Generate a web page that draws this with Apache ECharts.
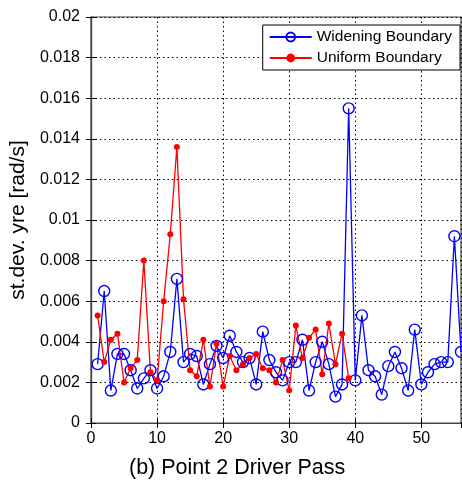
<!DOCTYPE html>
<html>
<head>
<meta charset="utf-8">
<script src="https://cdn.jsdelivr.net/npm/echarts@6/dist/echarts.min.js"></script>
<style>html,body{margin:0;padding:0;background:#fff}#c{width:462px;height:485px}</style>
</head>
<body>
<div id="c"></div>
<script>
var passes = [];
for (var i = 1; i <= 57; i++) passes.push(i);
var widening = [0.0029,0.0065,0.0016,0.0034,0.0034,0.0026,0.0017,0.0022,0.0026,0.0017,
  0.0023,0.0035,0.0071,0.0030,0.0034,0.0033,0.0019,0.0029,0.0038,0.0032,
  0.0043,0.0035,0.0030,0.0032,0.0019,0.0045,0.0031,0.0025,0.0021,0.0030,
  0.0030,0.0041,0.0016,0.0030,0.0040,0.0029,0.0013,0.0019,0.0155,0.0021,
  0.0053,0.0026,0.0023,0.0014,0.0028,0.0035,0.0027,0.0016,0.0046,0.0019,
  0.0025,0.0029,0.0030,0.0030,0.0092,0.0035];
var uniform = [0.0053,0.0030,0.0041,0.0044,0.0020,0.0027,0.0031,0.0080,0.0025,0.0021,
  0.0060,0.0093,0.0136,0.0061,0.0026,0.0023,0.0041,0.0018,0.0039,0.0018,
  0.0033,0.0026,0.0029,0.0032,0.0034,0.0027,0.0026,0.0020,0.0031,0.0016,
  0.0048,0.0032,0.0042,0.0046,0.0024,0.0049,0.0029,0.0044,0.0022,null,
  null,null,null,null,null,null,null,null,null,null,
  null,null,null,null,null,null,0.0037,0.0060];
var yTicks = [0,0.002,0.004,0.006,0.008,0.01,0.012,0.014,0.016,0.018,0.02];
var xTicks = [0,10,20,30,40,50];

function pairs(arr){ return arr.map(function(v,i){ return [passes[i], v]; }); }

var FONT = 'Liberation Sans';
var chart = echarts.init(document.getElementById('c'));
var gridStyle = {show:true, lineStyle:{color:'#000', type:[1.5,3], width:1}};
chart.setOption({
  animation:false,
  textStyle:{fontFamily:FONT},
  grid:{left:91, top:17, right:1, bottom:62, show:true, borderColor:'#444', borderWidth:1.2, backgroundColor:'#fff'},
  legend:{
    right:2, top:25, orient:'vertical', itemWidth:42, itemHeight:11, itemGap:5,
    borderColor:'#000', borderWidth:1, backgroundColor:'#fff', padding:[4,8,4,6],
    textStyle:{fontFamily:FONT, fontSize:15.5, color:'#000'},
    data:[{name:'Widening Boundary'},{name:'Uniform Boundary', itemStyle:{borderWidth:0}}]
  },
  xAxis:[{
    type:'value', min:0, max:56, interval:10,
    axisLine:{show:true, lineStyle:{color:'#444', width:1.2}},
    axisTick:{show:true, inside:true, length:5, lineStyle:{color:'#000'}},
    axisLabel:{fontFamily:FONT, fontSize:16, color:'#000', margin:8, showMaxLabel:false,
      formatter:function(v){ return xTicks.indexOf(v) >= 0 ? String(v) : ''; }},
    splitLine:gridStyle
  },{
    type:'value', min:0, max:56, interval:10, position:'top',
    axisLine:{show:true, lineStyle:{color:'#444', width:1.2}},
    axisTick:{show:true, inside:true, length:5, lineStyle:{color:'#000'}},
    axisLabel:{show:false}, splitLine:{show:false}
  }],
  yAxis:[{
    type:'value', min:0, max:0.02, interval:0.002,
    name:'st.dev. yre [rad/s]', nameLocation:'middle', nameGap:47,
    nameTextStyle:{fontFamily:FONT, fontSize:21, color:'#000'},
    axisLine:{show:true, lineStyle:{color:'#444', width:1.2}},
    axisTick:{show:true, inside:true, length:5, lineStyle:{color:'#000'}},
    axisLabel:{fontFamily:FONT, fontSize:16, color:'#000', margin:11,
      formatter:function(v){ var r = Math.round(v*1000)/1000; return yTicks.indexOf(r) >= 0 ? String(r) : ''; }},
    splitLine:gridStyle
  },{
    type:'value', min:0, max:0.02, interval:0.002, position:'right',
    axisLine:{show:true, lineStyle:{color:'#444', width:1.2}},
    axisTick:{show:true, inside:true, length:5, lineStyle:{color:'#000'}},
    axisLabel:{show:false}, splitLine:{show:false}
  }],
  graphic:[{type:'text', left:129, top:457, style:{text:'(b) Point 2 Driver Pass', font:'21.5px "Liberation Sans"', fill:'#000'}}],
  series:[{
    name:'Widening Boundary', type:'line', data:pairs(widening), clip:true,
    symbol:'circle', symbolSize:11, showAllSymbol:true,
    lineStyle:{color:'#0000ff', width:1.3}, itemStyle:{color:'rgba(0,0,255,0)', borderColor:'#0000ff', borderWidth:1.4}
  },{
    name:'Uniform Boundary', type:'line', data:pairs(uniform), clip:true, connectNulls:false,
    symbol:'circle', symbolSize:6, showAllSymbol:true,
    lineStyle:{color:'#ff0000', width:1.3}, itemStyle:{color:'#ff0000'}
  }]
});
</script>
</body>
</html>
